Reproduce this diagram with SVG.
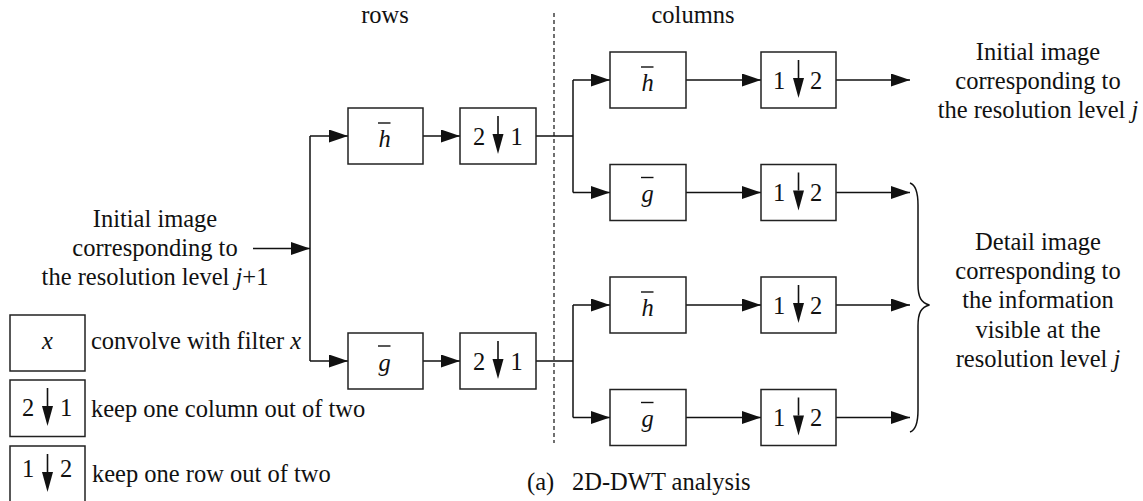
<svg xmlns="http://www.w3.org/2000/svg" xmlns:xlink="http://www.w3.org/1999/xlink" width="1143" height="501" viewBox="0 0 1143 501">
<style>
text{font-family:"Liberation Serif","Tinos","Times New Roman","Noto Serif","DejaVu Serif",serif;font-size:24.5px;fill:#111}
.c{text-anchor:middle}
.i{font-style:italic}
.box{fill:#fff;stroke:#222;stroke-width:1.5}
.ln{fill:none;stroke:#111;stroke-width:1.5}
.bar{stroke:#111;stroke-width:1.4}
</style>
<defs>
<marker id="ah" markerUnits="userSpaceOnUse" markerWidth="20" markerHeight="14" refX="19" refY="6.5" orient="auto">
<path d="M0,0 L19,6.5 L0,13 Z" fill="#111"/>
</marker>
<g id="darr">
<line x1="0" y1="-20" x2="0" y2="-2" stroke="#111" stroke-width="1.6"/>
<path d="M-5.5,-2 L5.5,-2 L0,18 Z" fill="#111"/>
</g>
</defs>
<rect width="1143" height="501" fill="#fff"/>

<text class="c" x="385" y="23">rows</text>
<text class="c" x="693" y="23">columns</text>
<line x1="554" y1="13" x2="554" y2="443" stroke="#111" stroke-width="1.2" stroke-dasharray="4,3"/>

<g id="input-label">
<text class="c" x="155" y="227">Initial image</text>
<text class="c" x="155" y="256">corresponding to</text>
<text class="c" x="155" y="285">the resolution level <tspan class="i">j</tspan>+1</text>
</g>

<g id="connectors">
<path class="ln" d="M253,248.5 H310" marker-end="url(#ah)"/>
<path class="ln" d="M310,136 V361"/>
<path class="ln" d="M310,136 H348" marker-end="url(#ah)"/>
<path class="ln" d="M310,361 H348" marker-end="url(#ah)"/>
<path class="ln" d="M423,136 H460" marker-end="url(#ah)"/>
<path class="ln" d="M423,361 H460" marker-end="url(#ah)"/>
<path class="ln" d="M536,136 H573 M573,80 V192.5"/>
<path class="ln" d="M573,80 H610" marker-end="url(#ah)"/>
<path class="ln" d="M573,192.5 H610" marker-end="url(#ah)"/>
<path class="ln" d="M536,361 H573 M573,305 V417.5"/>
<path class="ln" d="M573,305 H610" marker-end="url(#ah)"/>
<path class="ln" d="M573,417.5 H610" marker-end="url(#ah)"/>
<path class="ln" d="M686,80 H761" marker-end="url(#ah)"/>
<path class="ln" d="M686,192.5 H761" marker-end="url(#ah)"/>
<path class="ln" d="M686,305 H761" marker-end="url(#ah)"/>
<path class="ln" d="M686,417.5 H761" marker-end="url(#ah)"/>
<path class="ln" d="M836,80 H910" marker-end="url(#ah)"/>
<path class="ln" d="M836,192.5 H910" marker-end="url(#ah)"/>
<path class="ln" d="M836,305 H910" marker-end="url(#ah)"/>
<path class="ln" d="M836,417.5 H910" marker-end="url(#ah)"/>
</g>

<g id="row-h">
<rect class="box" x="348" y="108" width="75" height="56"/>
<line class="bar" x1="378" y1="123" x2="390.5" y2="123"/>
<text class="c i" x="384.5" y="146.5">h</text>
</g>
<g id="row-h-down">
<rect class="box" x="460" y="108" width="76" height="56"/>
<text class="c" x="479" y="145">2</text>
<use xlink:href="#darr" x="498" y="136"/>
<text class="c" x="516.5" y="145">1</text>
</g>
<g id="row-g">
<rect class="box" x="348" y="333" width="75" height="56"/>
<line class="bar" x1="378" y1="346" x2="390.5" y2="346"/>
<text class="c i" x="384.5" y="370.5">g</text>
</g>
<g id="row-g-down">
<rect class="box" x="460" y="333" width="76" height="56"/>
<text class="c" x="479" y="370">2</text>
<use xlink:href="#darr" x="498" y="361"/>
<text class="c" x="516.5" y="370">1</text>
</g>

<g id="col-hh">
<rect class="box" x="610" y="52" width="76" height="56"/>
<line class="bar" x1="641" y1="67" x2="653.5" y2="67"/>
<text class="c i" x="647.5" y="90.5">h</text>
</g>
<g id="col-hg">
<rect class="box" x="610" y="164.5" width="76" height="56"/>
<line class="bar" x1="641" y1="177.5" x2="653.5" y2="177.5"/>
<text class="c i" x="647.5" y="202">g</text>
</g>
<g id="col-gh">
<rect class="box" x="610" y="277" width="76" height="56"/>
<line class="bar" x1="641" y1="292" x2="653.5" y2="292"/>
<text class="c i" x="647.5" y="315.5">h</text>
</g>
<g id="col-gg">
<rect class="box" x="610" y="389.5" width="76" height="56"/>
<line class="bar" x1="641" y1="402.5" x2="653.5" y2="402.5"/>
<text class="c i" x="647.5" y="427">g</text>
</g>

<g id="col-hh-down">
<rect class="box" x="761" y="52" width="75" height="56"/>
<text class="c" x="779" y="88.5">1</text>
<use xlink:href="#darr" x="798.5" y="80"/>
<text class="c" x="816" y="88.5">2</text>
</g>
<g id="col-hg-down">
<rect class="box" x="761" y="164.5" width="75" height="56"/>
<text class="c" x="779" y="201">1</text>
<use xlink:href="#darr" x="798.5" y="192.5"/>
<text class="c" x="816" y="201">2</text>
</g>
<g id="col-gh-down">
<rect class="box" x="761" y="277" width="75" height="56"/>
<text class="c" x="779" y="313.5">1</text>
<use xlink:href="#darr" x="798.5" y="305"/>
<text class="c" x="816" y="313.5">2</text>
</g>
<g id="col-gg-down">
<rect class="box" x="761" y="389.5" width="75" height="56"/>
<text class="c" x="779" y="426">1</text>
<use xlink:href="#darr" x="798.5" y="417.5"/>
<text class="c" x="816" y="426">2</text>
</g>

<g id="out-approx">
<text class="c" x="1038" y="60">Initial image</text>
<text class="c" x="1038" y="89">corresponding to</text>
<text class="c" x="1038" y="118">the resolution level <tspan class="i">j</tspan></text>
</g>

<g id="brace">
<path class="ln" d="M910,183 C916,185 918,192 918,205 L918,284 C918,297 921,303 929.5,305 C921,307 918,313 918,326 L918,410 C918,423 916,430 910,432"/>
</g>

<g id="out-detail">
<text class="c" x="1038" y="250">Detail image</text>
<text class="c" x="1038" y="279">corresponding to</text>
<text class="c" x="1038" y="308">the information</text>
<text class="c" x="1038" y="337.5">visible at the</text>
<text class="c" x="1038" y="367">resolution level <tspan class="i">j</tspan></text>
</g>

<g id="legend-filter">
<rect class="box" x="10" y="315" width="75" height="56"/>
<text class="c i" x="47.5" y="349">x</text>
<text x="91" y="349">convolve with filter <tspan class="i">x</tspan></text>
</g>
<g id="legend-cols">
<rect class="box" x="10" y="380" width="75" height="56.5"/>
<text class="c" x="28" y="416">2</text>
<use xlink:href="#darr" x="47.5" y="408"/>
<text class="c" x="66" y="416">1</text>
<text x="91" y="416.5">keep one column out of two</text>
</g>
<g id="legend-rows">
<rect class="box" x="10" y="446" width="75" height="56"/>
<text class="c" x="28" y="477">1</text>
<use xlink:href="#darr" x="47.5" y="474"/>
<text class="c" x="66" y="477">2</text>
<text x="92" y="481.5">keep one row out of two</text>
</g>

<g id="caption">
<text x="527" y="490">(a)</text>
<text x="572" y="490">2D-DWT analysis</text>
</g>
</svg>
